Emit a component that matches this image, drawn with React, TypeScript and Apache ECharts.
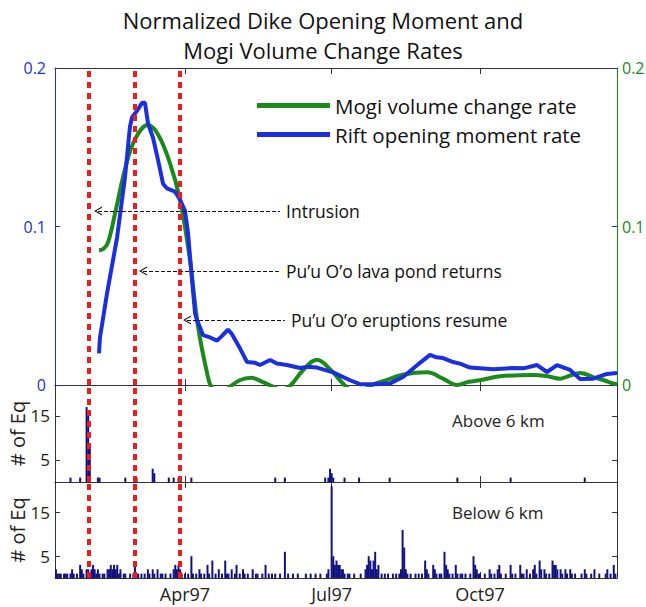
import React, { useEffect, useRef } from "react";
import * as echarts from "echarts";

// x values are days since 1 Jan 1997 (day 0 = Jan 1)
const X_MIN = 9.4;
const X_MAX = 358;
const monthTicks = [90, 181, 273];
const monthLabels = ["Apr97", "Jul97", "Oct97"];
const eventDays = [30.1, 58.6, 86.9];

const rift: [number, number][] = [
  [36.7, 0.02], [37.3, 0.03], [41.7, 0.058], [47.9, 0.093], [52.8, 0.131], [55.9, 0.163],
  [57.2, 0.169], [60.3, 0.173], [63.4, 0.178], [65.2, 0.178], [67.1, 0.165], [70.2, 0.156],
  [73.3, 0.142], [76.4, 0.127], [78.9, 0.124], [83.8, 0.122], [86.9, 0.117], [90.0, 0.11],
  [91.9, 0.096], [94.4, 0.066], [96.3, 0.045], [97.5, 0.041], [101.2, 0.0315], [105.6, 0.03],
  [109.9, 0.028], [113.0, 0.031], [116.7, 0.035], [119.2, 0.032], [124.2, 0.023], [128.5, 0.0145],
  [133.5, 0.014], [136.6, 0.0126], [142.8, 0.0158], [147.0, 0.0135], [153.3, 0.0126], [161.4, 0.0107],
  [166.0, 0.0115], [171.9, 0.011], [181.9, 0.008], [192.4, 0.003], [198.6, 0.0005], [207.9, 0.0005],
  [217.2, 0.001], [225.3, 0.005], [235.8, 0.014], [242.0, 0.019], [246.0, 0.0175], [250.1, 0.017],
  [256.3, 0.0145], [260.6, 0.0135], [266.8, 0.011], [281.1, 0.01], [293.5, 0.0107], [300.0, 0.0105],
  [308.4, 0.0126], [314.6, 0.0082], [320.8, 0.0126], [328.9, 0.0095], [335.1, 0.0038], [343.2, 0.004],
  [351.8, 0.007], [358.0, 0.0076],
];

const mogi: [number, number][] = [
  [36.7, 0.085], [39.5, 0.086], [42.3, 0.09], [46.6, 0.108], [52.8, 0.136], [59.0, 0.155],
  [67.1, 0.164], [73.3, 0.158], [80.7, 0.14], [86.9, 0.117], [93.1, 0.079], [98.1, 0.037],
  [104.3, 0.005], [106.8, -0.002], [112.0, -0.006], [118.0, -0.001], [124.0, 0.003], [131.0, 0.0045],
  [138.0, 0.002], [144.6, -0.001], [150.0, -0.003], [155.2, -0.0005], [163.0, 0.009], [171.9, 0.016],
  [180.0, 0.01], [188.0, 0.001], [195.0, -0.004], [201.0, -0.003], [206.0, 0.0], [215.0, 0.003],
  [225.0, 0.0065], [240.2, 0.008], [250.0, 0.004], [258.8, 0.0], [266.0, 0.002], [273.0, 0.003],
  [285.5, 0.0055], [305.9, 0.0063], [315.0, 0.0055], [322.7, 0.004], [329.0, 0.006], [335.1, 0.0076],
  [343.2, 0.005], [350.0, 0.003], [355.6, 0.001], [358.0, 0.0005],
];

const quakesAbove: [number, number][] = [
  [19, 1], [25, 1], [29, 17], [30, 16], [31, 8], [36, 1], [37, 1], [53, 1], [59, 1], [60, 1],
  [70, 3], [71, 2], [80, 1], [83, 1], [86, 1], [87, 1], [94, 1], [146, 1], [152, 1], [177, 1],
  [179, 1], [180, 3], [181, 2], [182, 1], [189, 1], [198, 1], [217, 1], [259, 1], [292, 1], [338, 1],
];

const quakesBelow: [number, number][] = [
  [10, 2], [11, 1], [12, 1], [13, 1], [15, 1], [16, 1], [17, 1], [19, 1], [20, 2], [21, 1], [23, 1],
  [25, 3], [26, 2], [27, 1], [29, 2], [30, 2], [31, 1], [32, 2], [33, 3], [34, 2], [35, 1], [36, 2],
  [37, 1], [39, 1], [40, 1], [42, 2], [43, 2], [44, 3], [45, 2], [46, 3], [47, 2], [48, 3], [49, 1],
  [50, 2], [52, 1], [53, 1], [56, 1], [58, 1], [59, 3], [60, 1], [61, 1], [63, 1], [65, 1], [67, 2],
  [68, 1], [70, 2], [71, 1], [73, 2], [75, 1], [76, 1], [78, 1], [81, 1], [83, 2], [84, 3], [85, 2],
  [86, 3], [87, 2], [88, 1], [90, 1], [92, 1], [94, 5], [95, 1], [97, 1], [99, 2], [100, 1], [102, 1],
  [104, 3], [105, 1], [107, 4], [109, 1], [111, 2], [113, 1], [115, 4], [116, 1], [117, 1], [119, 2],
  [121, 1], [122, 3], [124, 1], [126, 2], [127, 1], [129, 1], [132, 2], [134, 1], [135, 1], [138, 1],
  [140, 3], [142, 1], [144, 1], [146, 1], [149, 1], [152, 6], [154, 1], [157, 1], [160, 1], [165, 1],
  [168, 1], [171, 1], [174, 1], [178, 1], [179, 2], [181, 21], [182, 5], [183, 3], [184, 4], [185, 3],
  [186, 3], [187, 2], [188, 2], [189, 1], [191, 1], [192, 1], [195, 1], [199, 1], [202, 2], [203, 3],
  [204, 5], [205, 4], [206, 2], [207, 4], [208, 6], [209, 2], [210, 3], [212, 1], [214, 1], [216, 1],
  [219, 1], [221, 1], [223, 1], [224, 2], [225, 11], [226, 7], [227, 2], [228, 1], [230, 1], [233, 1],
  [235, 1], [237, 1], [239, 4], [240, 2], [241, 1], [244, 3], [245, 2], [246, 1], [248, 1], [249, 1],
  [251, 6], [252, 3], [253, 2], [254, 1], [256, 1], [258, 3], [259, 1], [261, 1], [262, 1], [264, 1],
  [267, 1], [269, 5], [270, 3], [271, 2], [272, 1], [273, 1], [276, 1], [279, 2], [280, 1], [282, 1],
  [284, 2], [285, 3], [286, 1], [289, 1], [292, 3], [293, 1], [295, 1], [298, 3], [299, 1], [300, 1],
  [302, 2], [304, 1], [306, 2], [307, 3], [308, 1], [310, 4], [311, 2], [313, 2], [314, 1], [316, 1],
  [318, 4], [319, 3], [320, 3], [321, 2], [323, 2], [324, 1], [326, 2], [327, 1], [329, 2], [330, 1],
  [332, 1], [336, 1], [338, 2], [339, 1], [342, 1], [344, 2], [347, 1], [351, 1], [352, 2], [354, 1],
  [356, 3], [357, 1],
];

// annotation arrows: [from day, to day, level, text]
const annotations: [number, number, number, string][] = [
  [36.1, 149.0, 0.1098, "Intrusion"],
  [64.0, 149.0, 0.0719, "Pu\u2019u O\u2019o lava pond returns"],
  [91.3, 152.0, 0.041, "Pu\u2019u O\u2019o eruptions resume"],
];

const FONT = "Open Sans";
const BLUE = "#1c2fe0";
const GREEN = "#1b8a1b";
const NAVY = "#12127e";
const AXIS = "#333";

export default function App() {
  const ref = useRef<HTMLDivElement>(null);
  useEffect(() => {
    if (!ref.current) return;
    const chart = echarts.init(ref.current, null, { renderer: "svg" });
    const grids = [
      { left: 55, right: 29, top: 68, height: 317 },
      { left: 55, right: 29, top: 385, height: 97 },
      { left: 55, right: 29, top: 482, height: 96 },
    ];
    const xAxes: any[] = [];
    grids.forEach((_, i) => {
      ["bottom", "top"].forEach((pos) => {
        xAxes.push({
          gridIndex: i,
          type: "value",
          position: pos,
          min: X_MIN,
          max: X_MAX,
          axisLine: { show: true, onZero: false, lineStyle: { color: AXIS, width: 1 } },
          axisTick: { show: true, inside: true, length: 6, customValues: monthTicks, lineStyle: { color: AXIS } },
          axisLabel: {
            show: i === 2 && pos === "bottom",
            customValues: monthTicks,
            formatter: (v: number) => monthLabels[monthTicks.indexOf(Math.round(v))] ?? "",
            fontFamily: FONT,
            fontSize: 18,
            color: "#222",
            margin: 7,
          },
          splitLine: { show: false },
        });
      });
    });
    const eqAxis = (grid: number, pos: string, name: string) => ({
      gridIndex: grid,
      type: "value",
      position: pos,
      min: 0,
      max: 22,
      name,
      nameLocation: "middle",
      nameGap: 28,
      nameRotate: 90,
      nameMoveOverlap: false,
      nameTextStyle: { fontFamily: FONT, fontSize: 20, color: "#222" },
      axisLine: { show: true, lineStyle: { color: AXIS } },
      axisTick: { show: true, inside: true, length: 5, customValues: [5, 15], lineStyle: { color: AXIS } },
      axisLabel: {
        show: pos === "left",
        customValues: [5, 15],
        fontFamily: FONT,
        fontSize: 17,
        color: "#222",
        margin: 5,
      },
      splitLine: { show: false },
    });
    const yAxes: any[] = [
      {
        gridIndex: 0,
        type: "value",
        position: "left",
        min: 0,
        max: 0.2,
        interval: 0.1,
        axisLine: { show: true, lineStyle: { color: BLUE, width: 1 } },
        axisTick: { show: true, inside: true, length: 5, lineStyle: { color: BLUE } },
        axisLabel: { fontFamily: FONT, fontSize: 16, color: BLUE, margin: 9 },
        splitLine: { show: false },
      },
      {
        gridIndex: 0,
        type: "value",
        position: "right",
        min: 0,
        max: 0.2,
        interval: 0.1,
        axisLine: { show: true, lineStyle: { color: GREEN, width: 1 } },
        axisTick: { show: true, inside: true, length: 5, lineStyle: { color: BLUE } },
        axisLabel: { fontFamily: FONT, fontSize: 16, color: GREEN, margin: 5 },
        splitLine: { show: false },
      },
      eqAxis(1, "left", "# of Eq"),
      eqAxis(1, "right", ""),
      eqAxis(2, "left", "# of Eq"),
      eqAxis(2, "right", ""),
    ];

    const redLines = {
      silent: true,
      symbol: ["none", "none"],
      label: { show: false },
      lineStyle: { color: "#ee1c1c", width: 4, type: [6, 5] },
      data: eventDays.map((d) => ({ xAxis: d })),
    };

    const chevron = "path://M0,10 L5,0 L10,10 L8.6,10 L5,2.6 L1.4,10 Z";
    const arrowLines = {
      silent: true,
      symbol: [chevron, "none"],
      symbolSize: [9, 8],
      lineStyle: { color: "#111", width: 1, type: [4, 2] },
      label: {
        show: true,
        position: "end",
        distance: 6,
        fontFamily: FONT,
        fontSize: 17.5,
        color: "#111",
      },
      data: annotations.map(([a, b, v, t]) => [
        { coord: [a, v] },
        { coord: [b, v], label: { formatter: t } },
      ]),
    };

    const barItem = (params: any, api: any) => {
      const x = api.value(0);
      const v = api.value(1);
      const p0 = api.coord([x, 0]);
      const p1 = api.coord([x, v]);
      return {
        type: "rect",
        shape: { x: p0[0] - 1, y: p1[1], width: 2, height: p0[1] - p1[1] },
        style: { fill: NAVY },
      };
    };

    chart.setOption({
      animation: false,
      backgroundColor: "#fff",
      title: {
        text: "Normalized Dike Opening Moment and\nMogi Volume Change Rates",
        left: "center",
        top: 0,
        textStyle: { fontFamily: FONT, fontSize: 22, fontWeight: "normal", color: "#111", lineHeight: 30 },
      },
      legend: {
        orient: "vertical",
        left: 252,
        top: 90,
        icon: "rect",
        itemWidth: 73,
        itemHeight: 5,
        itemGap: 8,
        itemStyle: { borderWidth: 0 },
        textStyle: { fontFamily: FONT, fontSize: 20.5, color: "#111" },
        data: ["Mogi volume change rate", "Rift opening moment rate"],
      },
      grid: grids.map((g) => ({ ...g, show: false, containLabel: false, outerBoundsMode: "none" })),
      xAxis: xAxes,
      yAxis: yAxes,
      graphic: [
        { type: "text", left: 452, top: 412, style: { text: "Above 6 km", font: `17px "${FONT}"`, fill: "#222" } },
        { type: "text", left: 452, top: 504, style: { text: "Below 6 km", font: `17px "${FONT}"`, fill: "#222" } },
      ],
      series: [
        {
          name: "Mogi volume change rate",
          type: "line",
          xAxisIndex: 0,
          yAxisIndex: 1,
          data: mogi,
          smooth: 0.4,
          showSymbol: false,
          clip: true,
          lineStyle: { color: GREEN, width: 4 },
          itemStyle: { color: GREEN },
          markLine: redLines,
          z: 3,
        },
        {
          name: "Rift opening moment rate",
          type: "line",
          xAxisIndex: 0,
          yAxisIndex: 0,
          data: rift,
          showSymbol: false,
          clip: true,
          lineStyle: { color: BLUE, width: 4 },
          itemStyle: { color: BLUE },
          markLine: arrowLines,
          z: 4,
        },
        {
          name: "Above",
          type: "custom",
          xAxisIndex: 2,
          yAxisIndex: 2,
          data: quakesAbove,
          encode: { x: 0, y: 1 },
          renderItem: barItem,
          clip: true,
          markLine: redLines,
        },
        {
          name: "Below",
          type: "custom",
          xAxisIndex: 4,
          yAxisIndex: 4,
          data: quakesBelow,
          encode: { x: 0, y: 1 },
          renderItem: barItem,
          clip: true,
          markLine: redLines,
        },
      ],
    });
    return () => chart.dispose();
  }, []);
  return <div ref={ref} style={{ width: 646, height: 607, position: "absolute", left: 0, top: 0 }} />;
}
